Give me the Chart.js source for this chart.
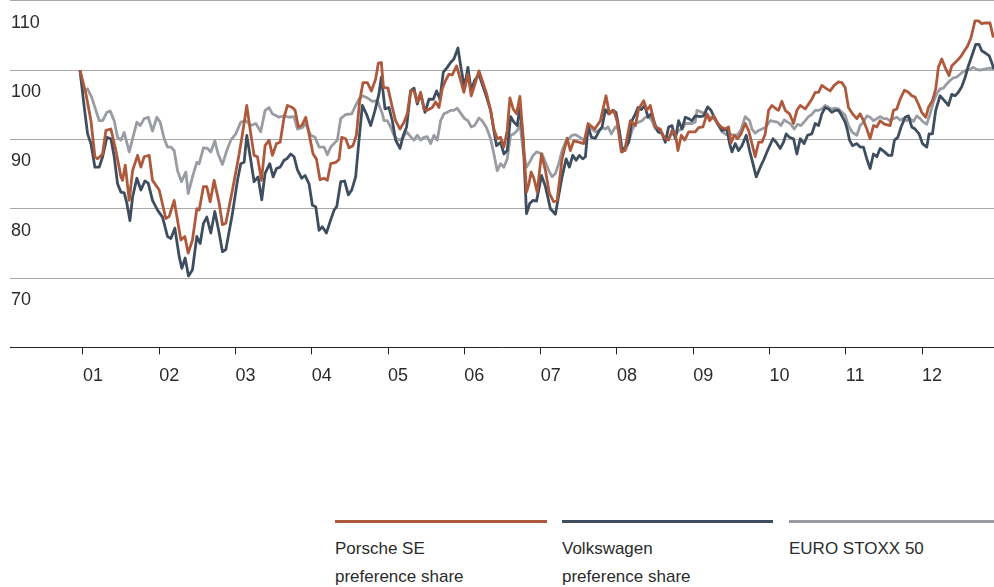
<!DOCTYPE html>
<html>
<head>
<meta charset="utf-8">
<script src="https://cdn.jsdelivr.net/npm/chart.js@4.4.1/dist/chart.umd.min.js"></script>
<style>
  body { margin: 0; background: #fff; font-family: "Liberation Sans", Arial, sans-serif; }
  #wrap { position: relative; width: 994px; height: 587px; overflow: hidden; }
  #chartBox { position: absolute; left: 0; top: -11px; width: 994px; height: 422px; }
  .legend-item { position: absolute; top: 520px; border-top: 3px solid; padding-top: 12px;
                 color: #2b2b2b; font-size: 17px; line-height: 28px; }
</style>
</head>
<body>
<div id="wrap">
  <div id="chartBox"><canvas id="myChart"></canvas></div>
  <div id="legend"></div>
</div>
<script>
// Axis labels
const yearTicks = [2001, 2002, 2003, 2004, 2005, 2006, 2007, 2008, 2009, 2010, 2011, 2012];
const yearLabels = ['01', '02', '03', '04', '05', '06', '07', '08', '09', '10', '11', '12'];
const valueTicks = [60, 70, 80, 90, 100, 110];

// Series names (legend text, split in lines)
const seriesNames = [['Porsche SE', 'preference share'], ['Volkswagen', 'preference share'], ['EURO STOXX 50']];

// Porsche SE preference share (indexed, start = 100)
const porscheT = [2000.961, 2001.039, 2001.105, 2001.157, 2001.192, 2001.258, 2001.301, 2001.367, 2001.432, 2001.498,
  2001.520, 2001.555, 2001.607, 2001.651, 2001.716, 2001.760, 2001.803, 2001.869, 2001.912, 2002.000,
  2002.087, 2002.131, 2002.196, 2002.284, 2002.336, 2002.380, 2002.436, 2002.493, 2002.524, 2002.580,
  2002.624, 2002.668, 2002.720, 2002.786, 2002.829, 2002.873, 2002.960, 2003.048, 2003.091, 2003.148,
  2003.200, 2003.244, 2003.288, 2003.340, 2003.388, 2003.440, 2003.484, 2003.537, 2003.585, 2003.637,
  2003.681, 2003.746, 2003.781, 2003.825, 2003.868, 2003.921, 2003.964, 2004.017, 2004.060, 2004.108,
  2004.161, 2004.204, 2004.248, 2004.314, 2004.357, 2004.392, 2004.445, 2004.488, 2004.540, 2004.584,
  2004.628, 2004.672, 2004.728, 2004.781, 2004.837, 2004.872, 2004.912, 2004.940, 2004.999, 2005.056,
  2005.099, 2005.156, 2005.209, 2005.252, 2005.296, 2005.340, 2005.383, 2005.427, 2005.471, 2005.514,
  2005.580, 2005.623, 2005.667, 2005.711, 2005.754, 2005.798, 2005.842, 2005.898, 2005.942, 2005.994,
  2006.047, 2006.090, 2006.134, 2006.191, 2006.234, 2006.291, 2006.344, 2006.387, 2006.431, 2006.475,
  2006.518, 2006.562, 2006.597, 2006.640, 2006.684, 2006.728, 2006.771, 2006.815, 2006.846, 2006.876,
  2006.911, 2006.955, 2007.011, 2007.063, 2007.115, 2007.172, 2007.216, 2007.281, 2007.347, 2007.390,
  2007.434, 2007.500, 2007.565, 2007.622, 2007.709, 2007.783, 2007.857, 2007.901, 2007.958, 2008.001,
  2008.058, 2008.102, 2008.176, 2008.242, 2008.285, 2008.351, 2008.394, 2008.438, 2008.503, 2008.569,
  2008.613, 2008.678, 2008.722, 2008.766, 2008.800, 2008.844, 2008.888, 2008.940, 2009.027, 2009.071,
  2009.128, 2009.180, 2009.215, 2009.268, 2009.311, 2009.364, 2009.420, 2009.464, 2009.495, 2009.538,
  2009.582, 2009.626, 2009.682, 2009.726, 2009.770, 2009.813, 2009.857, 2009.901, 2009.944, 2009.988,
  2010.032, 2010.088, 2010.119, 2010.162, 2010.206, 2010.263, 2010.315, 2010.359, 2010.403, 2010.468,
  2010.512, 2010.555, 2010.599, 2010.643, 2010.686, 2010.752, 2010.795, 2010.848, 2010.905, 2010.948,
  2010.992, 2011.035, 2011.088, 2011.145, 2011.188, 2011.232, 2011.276, 2011.319, 2011.363, 2011.407,
  2011.450, 2011.507, 2011.581, 2011.625, 2011.669, 2011.712, 2011.769, 2011.821, 2011.865, 2011.909,
  2011.952, 2011.996, 2012.048, 2012.083, 2012.136, 2012.179, 2012.214, 2012.258, 2012.302, 2012.354,
  2012.389, 2012.454, 2012.511, 2012.555, 2012.598, 2012.642, 2012.694, 2012.738, 2012.782, 2012.825,
  2012.891, 2012.934];
const porscheV = [100.0, 96.6, 92.7, 87.5, 87.2, 87.9, 91.3, 91.5, 88.4, 84.6,
  84.1, 86.3, 81.2, 85.5, 87.7, 86.0, 87.5, 87.7, 84.1, 82.7,
  78.6, 78.9, 81.2, 75.5, 76.0, 73.6, 75.5, 80.0, 79.8, 83.2,
  83.2, 81.0, 84.1, 80.8, 77.7, 77.9, 82.7, 87.9, 90.8, 94.9,
  90.8, 87.7, 87.5, 84.1, 89.1, 89.9, 87.7, 89.4, 89.6, 93.2,
  94.9, 94.6, 94.2, 91.8, 92.0, 93.2, 90.8, 87.9, 87.2, 84.2,
  84.4, 84.1, 86.5, 86.7, 87.1, 90.3, 90.1, 88.8, 89.1, 90.6,
  95.6, 98.2, 98.2, 97.0, 98.7, 101.0, 101.1, 97.5, 97.4, 94.6,
  92.7, 91.5, 92.5, 93.7, 97.0, 97.0, 95.4, 96.8, 94.4, 94.2,
  94.6, 95.4, 94.6, 97.3, 98.5, 99.4, 99.3, 100.6, 98.9, 96.8,
  99.4, 96.3, 97.8, 99.9, 98.5, 96.6, 94.2, 91.5, 90.1, 90.3,
  88.9, 91.3, 96.0, 94.4, 93.7, 96.2, 90.3, 82.4, 83.6, 85.3,
  84.4, 82.4, 87.9, 85.5, 82.2, 81.0, 81.2, 87.2, 90.2, 88.4,
  89.8, 89.6, 89.4, 92.3, 91.5, 92.7, 96.3, 93.7, 94.2, 92.7,
  88.2, 88.4, 92.7, 92.0, 94.4, 95.6, 94.2, 94.9, 91.8, 91.5,
  90.3, 89.9, 91.3, 90.8, 88.4, 90.6, 89.9, 91.1, 91.1, 91.7,
  91.8, 93.7, 92.7, 93.4, 92.5, 91.8, 91.5, 91.8, 89.5, 90.6,
  90.1, 90.8, 92.3, 91.3, 89.4, 87.5, 89.6, 89.6, 90.8, 94.2,
  94.9, 94.4, 94.2, 95.5, 94.2, 93.7, 92.3, 94.2, 94.9, 94.4,
  95.1, 95.8, 96.8, 96.8, 97.8, 97.3, 97.0, 97.8, 98.3, 98.2,
  97.5, 94.6, 93.7, 93.0, 93.7, 92.7, 91.5, 90.1, 92.0, 91.8,
  92.7, 92.2, 92.0, 94.2, 94.4, 95.8, 97.1, 96.8, 96.3, 96.1,
  95.1, 93.9, 93.2, 94.6, 95.6, 97.3, 100.4, 101.6, 100.4, 99.2,
  100.6, 101.3, 102.0, 102.8, 103.5, 104.7, 107.1, 107.1, 106.7, 106.8,
  106.8, 104.7];

// Volkswagen preference share
const vwT = [2000.961, 2001.018, 2001.061, 2001.105, 2001.157, 2001.214, 2001.258, 2001.314, 2001.367, 2001.410,
  2001.454, 2001.498, 2001.541, 2001.576, 2001.616, 2001.651, 2001.707, 2001.760, 2001.812, 2001.856,
  2001.912, 2001.978, 2002.043, 2002.109, 2002.153, 2002.205, 2002.262, 2002.297, 2002.340, 2002.384,
  2002.436, 2002.493, 2002.537, 2002.580, 2002.624, 2002.676, 2002.729, 2002.786, 2002.829, 2002.873,
  2002.960, 2003.026, 2003.069, 2003.113, 2003.148, 2003.200, 2003.244, 2003.296, 2003.344, 2003.388,
  2003.449, 2003.493, 2003.537, 2003.585, 2003.637, 2003.672, 2003.724, 2003.768, 2003.812, 2003.868,
  2003.912, 2003.964, 2004.008, 2004.052, 2004.095, 2004.139, 2004.191, 2004.248, 2004.292, 2004.327,
  2004.379, 2004.431, 2004.479, 2004.523, 2004.575, 2004.619, 2004.663, 2004.715, 2004.772, 2004.829,
  2004.881, 2004.912, 2004.960, 2005.012, 2005.056, 2005.099, 2005.156, 2005.200, 2005.243, 2005.296,
  2005.340, 2005.383, 2005.427, 2005.484, 2005.536, 2005.593, 2005.636, 2005.680, 2005.724, 2005.776,
  2005.820, 2005.863, 2005.916, 2005.959, 2006.003, 2006.047, 2006.090, 2006.134, 2006.191, 2006.234,
  2006.291, 2006.344, 2006.387, 2006.422, 2006.475, 2006.518, 2006.562, 2006.606, 2006.649, 2006.693,
  2006.728, 2006.771, 2006.815, 2006.859, 2006.902, 2006.946, 2007.011, 2007.063, 2007.128, 2007.194,
  2007.238, 2007.281, 2007.334, 2007.377, 2007.421, 2007.465, 2007.508, 2007.552, 2007.587, 2007.622,
  2007.665, 2007.718, 2007.761, 2007.805, 2007.849, 2007.892, 2007.945, 2007.988, 2008.032, 2008.067,
  2008.111, 2008.154, 2008.198, 2008.242, 2008.277, 2008.320, 2008.364, 2008.408, 2008.451, 2008.495,
  2008.538, 2008.591, 2008.634, 2008.678, 2008.722, 2008.766, 2008.809, 2008.853, 2008.896, 2008.940,
  2008.984, 2009.027, 2009.093, 2009.137, 2009.189, 2009.233, 2009.276, 2009.320, 2009.377, 2009.442,
  2009.477, 2009.508, 2009.551, 2009.595, 2009.639, 2009.695, 2009.739, 2009.783, 2009.826, 2009.879,
  2009.922, 2009.975, 2010.045, 2010.088, 2010.141, 2010.184, 2010.219, 2010.263, 2010.315, 2010.359,
  2010.403, 2010.455, 2010.499, 2010.555, 2010.599, 2010.643, 2010.686, 2010.730, 2010.774, 2010.817,
  2010.861, 2010.905, 2010.948, 2010.992, 2011.023, 2011.049, 2011.088, 2011.145, 2011.188, 2011.232,
  2011.276, 2011.319, 2011.363, 2011.407, 2011.450, 2011.507, 2011.559, 2011.603, 2011.638, 2011.682,
  2011.725, 2011.778, 2011.821, 2011.865, 2011.909, 2011.961, 2012.005, 2012.062, 2012.092, 2012.136,
  2012.179, 2012.236, 2012.293, 2012.345, 2012.389, 2012.433, 2012.476, 2012.520, 2012.563, 2012.607,
  2012.660, 2012.703, 2012.747, 2012.782, 2012.825, 2012.878, 2012.913, 2012.943];
const vwV = [100.0, 94.6, 90.8, 89.4, 86.0, 86.0, 87.5, 90.3, 90.1, 87.5,
  83.6, 82.4, 82.3, 80.8, 78.3, 81.7, 84.4, 82.7, 84.0, 83.7,
  81.2, 79.8, 78.8, 76.0, 75.7, 77.2, 73.1, 71.4, 72.9, 70.3,
  71.2, 76.0, 75.0, 77.9, 78.8, 76.5, 79.6, 76.5, 73.8, 74.1,
  79.3, 84.1, 86.5, 86.7, 90.6, 87.0, 83.9, 84.6, 81.3, 85.1,
  86.5, 84.6, 85.8, 86.0, 87.0, 87.2, 87.9, 87.5, 85.6, 84.4,
  84.8, 83.6, 80.5, 80.3, 76.9, 77.4, 76.5, 78.4, 79.8, 80.3,
  83.9, 84.0, 82.0, 82.7, 84.6, 89.9, 94.9, 93.7, 92.0, 94.2,
  96.6, 99.0, 94.4, 94.6, 92.7, 89.9, 88.7, 90.6, 91.8, 97.0,
  97.4, 95.1, 96.6, 93.9, 95.8, 95.8, 97.0, 95.8, 99.7, 100.4,
  101.1, 101.6, 103.2, 100.1, 97.5, 100.4, 97.0, 98.5, 99.4, 98.0,
  96.1, 94.2, 91.3, 89.1, 89.6, 87.9, 88.4, 93.3, 92.5, 92.0,
  94.6, 89.9, 79.3, 80.8, 81.2, 81.1, 84.8, 83.2, 80.0, 79.2,
  82.0, 84.6, 87.2, 86.0, 87.7, 87.0, 87.7, 87.2, 87.5, 92.0,
  90.3, 90.2, 91.1, 91.8, 94.3, 93.7, 94.2, 93.9, 91.3, 88.2,
  88.9, 89.6, 92.7, 93.7, 94.6, 94.3, 94.9, 93.2, 93.7, 92.3,
  91.1, 90.9, 89.6, 91.8, 92.0, 90.1, 92.7, 91.5, 93.2, 93.0,
  92.7, 93.4, 93.3, 93.4, 94.7, 94.2, 93.2, 92.3, 91.3, 91.4,
  89.4, 88.2, 89.4, 88.4, 89.1, 90.6, 88.4, 86.5, 84.6, 86.0,
  87.0, 88.4, 90.1, 89.6, 88.7, 89.6, 90.8, 90.3, 90.1, 87.9,
  90.1, 89.4, 90.6, 90.8, 92.3, 92.0, 93.7, 94.6, 94.4, 93.9,
  94.2, 94.2, 93.4, 92.5, 91.3, 89.9, 89.1, 89.4, 88.9, 88.9,
  87.2, 85.8, 87.9, 87.5, 88.7, 88.2, 87.7, 87.7, 89.9, 90.3,
  91.8, 93.2, 93.4, 91.8, 91.5, 90.8, 89.4, 88.9, 90.8, 90.8,
  94.2, 96.3, 95.6, 94.9, 96.5, 96.3, 96.8, 97.6, 98.9, 100.6,
  102.3, 103.7, 103.7, 102.8, 102.5, 102.1, 101.1, 100.1];

// EURO STOXX 50
const stoxxT = [2000.961, 2001.018, 2001.061, 2001.114, 2001.170, 2001.214, 2001.258, 2001.314, 2001.358, 2001.410,
  2001.454, 2001.498, 2001.541, 2001.607, 2001.651, 2001.707, 2001.751, 2001.803, 2001.856, 2001.912,
  2001.969, 2002.013, 2002.065, 2002.109, 2002.153, 2002.196, 2002.240, 2002.292, 2002.349, 2002.380,
  2002.436, 2002.493, 2002.524, 2002.580, 2002.633, 2002.676, 2002.729, 2002.772, 2002.829, 2002.886,
  2002.938, 2003.004, 2003.069, 2003.135, 2003.200, 2003.266, 2003.331, 2003.388, 2003.440, 2003.484,
  2003.571, 2003.637, 2003.702, 2003.768, 2003.812, 2003.877, 2003.921, 2003.986, 2004.043, 2004.095,
  2004.161, 2004.204, 2004.248, 2004.335, 2004.379, 2004.445, 2004.523, 2004.575, 2004.619, 2004.663,
  2004.728, 2004.794, 2004.859, 2004.925, 2004.947, 2004.990, 2005.034, 2005.078, 2005.130, 2005.187,
  2005.243, 2005.296, 2005.340, 2005.383, 2005.427, 2005.471, 2005.514, 2005.558, 2005.601, 2005.645,
  2005.689, 2005.732, 2005.776, 2005.820, 2005.863, 2005.907, 2005.951, 2006.003, 2006.047, 2006.090,
  2006.134, 2006.191, 2006.234, 2006.291, 2006.344, 2006.387, 2006.431, 2006.475, 2006.518, 2006.562,
  2006.606, 2006.649, 2006.693, 2006.728, 2006.771, 2006.815, 2006.859, 2006.902, 2006.946, 2007.019,
  2007.063, 2007.107, 2007.150, 2007.194, 2007.238, 2007.281, 2007.325, 2007.369, 2007.412, 2007.456,
  2007.500, 2007.543, 2007.587, 2007.630, 2007.674, 2007.718, 2007.761, 2007.805, 2007.849, 2007.884,
  2007.927, 2007.980, 2008.023, 2008.067, 2008.111, 2008.154, 2008.198, 2008.242, 2008.285, 2008.329,
  2008.373, 2008.416, 2008.460, 2008.503, 2008.547, 2008.591, 2008.634, 2008.678, 2008.722, 2008.766,
  2008.809, 2008.853, 2008.896, 2008.940, 2008.984, 2009.027, 2009.049, 2009.115, 2009.172, 2009.224,
  2009.276, 2009.333, 2009.377, 2009.433, 2009.477, 2009.530, 2009.582, 2009.626, 2009.682, 2009.739,
  2009.770, 2009.813, 2009.857, 2009.901, 2009.944, 2010.010, 2010.053, 2010.106, 2010.149, 2010.193,
  2010.237, 2010.280, 2010.324, 2010.368, 2010.411, 2010.468, 2010.512, 2010.555, 2010.599, 2010.643,
  2010.686, 2010.730, 2010.774, 2010.817, 2010.861, 2010.905, 2010.948, 2010.992, 2011.035, 2011.088,
  2011.145, 2011.188, 2011.232, 2011.276, 2011.319, 2011.363, 2011.407, 2011.450, 2011.494, 2011.538,
  2011.581, 2011.625, 2011.669, 2011.712, 2011.756, 2011.799, 2011.843, 2011.887, 2011.930, 2011.974,
  2012.018, 2012.062, 2012.105, 2012.149, 2012.192, 2012.236, 2012.280, 2012.323, 2012.367, 2012.411,
  2012.454, 2012.498, 2012.541, 2012.585, 2012.629, 2012.672, 2012.716, 2012.760, 2012.803, 2012.847,
  2012.891, 2012.934];
const stoxxV = [100.0, 97.0, 97.3, 96.1, 94.2, 92.7, 92.7, 93.9, 94.1, 92.7,
  90.3, 89.9, 91.0, 88.2, 90.1, 92.5, 92.0, 93.0, 93.2, 91.2,
  93.2, 92.5, 90.1, 88.9, 88.9, 88.4, 85.5, 83.9, 85.3, 82.2,
  84.6, 86.7, 86.5, 88.8, 88.7, 88.2, 89.8, 87.9, 86.4, 88.4,
  89.9, 90.8, 92.5, 92.7, 92.0, 92.3, 91.1, 94.2, 94.6, 93.7,
  93.2, 93.4, 93.2, 93.3, 91.5, 91.7, 92.3, 90.6, 90.3, 88.9,
  88.9, 87.8, 88.9, 89.9, 93.0, 93.6, 93.7, 94.9, 95.8, 96.3,
  96.0, 95.5, 95.6, 93.7, 92.7, 92.7, 91.8, 90.6, 89.9, 90.1,
  91.1, 90.4, 89.9, 90.6, 89.9, 90.3, 90.4, 89.4, 90.6, 89.9,
  92.7, 93.7, 93.9, 94.2, 94.2, 94.5, 93.8, 93.0, 92.7, 91.8,
  92.0, 93.1, 92.7, 91.7, 90.1, 87.9, 85.5, 86.5, 86.0, 87.2,
  90.6, 90.8, 91.3, 92.3, 88.4, 86.0, 86.8, 87.7, 88.2, 87.9,
  86.7, 85.5, 84.6, 85.1, 86.5, 88.4, 89.6, 90.1, 90.6, 90.7,
  90.4, 90.1, 89.6, 91.8, 91.5, 91.1, 91.3, 91.7, 91.5, 91.8,
  90.8, 91.8, 91.5, 88.9, 88.4, 89.6, 91.3, 92.3, 92.5, 92.7,
  93.2, 93.3, 92.7, 91.5, 91.3, 90.8, 90.1, 90.3, 90.8, 90.6,
  91.3, 91.5, 92.3, 92.3, 92.3, 92.5, 94.2, 93.9, 93.7, 93.2,
  93.0, 92.0, 91.1, 90.7, 90.8, 90.6, 90.7, 91.4, 93.3, 92.7,
  91.5, 90.9, 91.3, 91.5, 91.7, 92.7, 92.6, 92.5, 92.0, 92.8,
  92.5, 92.2, 91.5, 92.2, 92.0, 92.7, 93.3, 93.6, 94.2, 94.2,
  94.4, 94.9, 94.6, 94.4, 94.5, 94.4, 93.9, 93.5, 92.0, 91.0,
  90.6, 92.0, 92.5, 93.4, 93.2, 92.7, 93.0, 93.3, 93.0, 93.0,
  92.7, 93.0, 93.2, 92.8, 93.0, 92.7, 93.0, 92.6, 93.4, 93.0,
  92.5, 92.2, 93.7, 95.4, 96.6, 97.3, 97.4, 98.0, 98.5, 98.9,
  99.0, 99.4, 99.8, 100.0, 100.1, 100.4, 100.1, 100.0, 100.1, 100.2,
  100.3, 100.2];

const seriesColors = ['#ae593b', '#3e4e5e', '#9a9ca4'];
const legendLeft = [335, 562, 789];
const legendWidth = [212, 211, 205];

function toPoints(ts, vs) {
    return ts.map((t, i) => ({ x: t, y: vs[i] }));
}

document.addEventListener('DOMContentLoaded', () => {
    const ctx = document.getElementById('myChart').getContext('2d');
    const font = { family: '"Liberation Sans", Arial, sans-serif', size: 18 };

    new Chart(ctx, {
        type: 'line',
        data: {
            datasets: [
                { label: seriesNames[0].join(' '), data: toPoints(porscheT, porscheV), borderColor: seriesColors[0] },
                { label: seriesNames[1].join(' '), data: toPoints(vwT, vwV), borderColor: seriesColors[1] },
                { label: seriesNames[2].join(' '), data: toPoints(stoxxT, stoxxV), borderColor: seriesColors[2] }
            ]
        },
        options: {
            responsive: true,
            maintainAspectRatio: false,
            animation: false,
            layout: { padding: { left: 8, right: 0, top: 0, bottom: 13 } },
            elements: {
                line: { borderWidth: 2.8, tension: 0, borderJoinStyle: 'round' },
                point: { radius: 0 }
            },
            plugins: {
                legend: { display: false },
                tooltip: { enabled: false }
            },
            scales: {
                x: {
                    type: 'linear',
                    min: 2000.044,
                    max: 2012.943,
                    afterBuildTicks: (scale) => { scale.ticks = yearTicks.map(v => ({ value: v })); },
                    grid: { drawOnChartArea: false, drawTicks: true, tickLength: 7, color: '#222' },
                    border: { display: true, color: '#222', width: 1 },
                    ticks: {
                        autoSkip: false,
                        maxRotation: 0,
                        align: 'start',
                        padding: 11,
                        color: '#2b2b2b',
                        font: font,
                        callback: (value, index) => yearLabels[index]
                    }
                },
                y: {
                    type: 'linear',
                    min: 60,
                    max: 110,
                    afterBuildTicks: (scale) => { scale.ticks = valueTicks.map(v => ({ value: v })); },
                    grid: {
                        drawTicks: false,
                        color: (c) => (c.tick && c.tick.value === 60) ? 'rgba(0,0,0,0)' : '#a8a8a8'
                    },
                    border: { display: false },
                    ticks: {
                        mirror: true,
                        padding: 1,
                        labelOffset: 22,
                        color: '#2b2b2b',
                        font: font,
                        callback: (value) => value === 60 ? '' : String(value)
                    }
                }
            }
        }
    });

    // HTML legend: a coloured bar above each series name
    const legend = document.getElementById('legend');
    seriesNames.forEach((lines, i) => {
        const item = document.createElement('div');
        item.className = 'legend-item';
        item.style.left = legendLeft[i] + 'px';
        item.style.width = legendWidth[i] + 'px';
        item.style.borderTopColor = seriesColors[i];
        lines.forEach(line => {
            const row = document.createElement('div');
            row.textContent = line;
            item.appendChild(row);
        });
        legend.appendChild(item);
    });
});
</script>
</body>
</html>
